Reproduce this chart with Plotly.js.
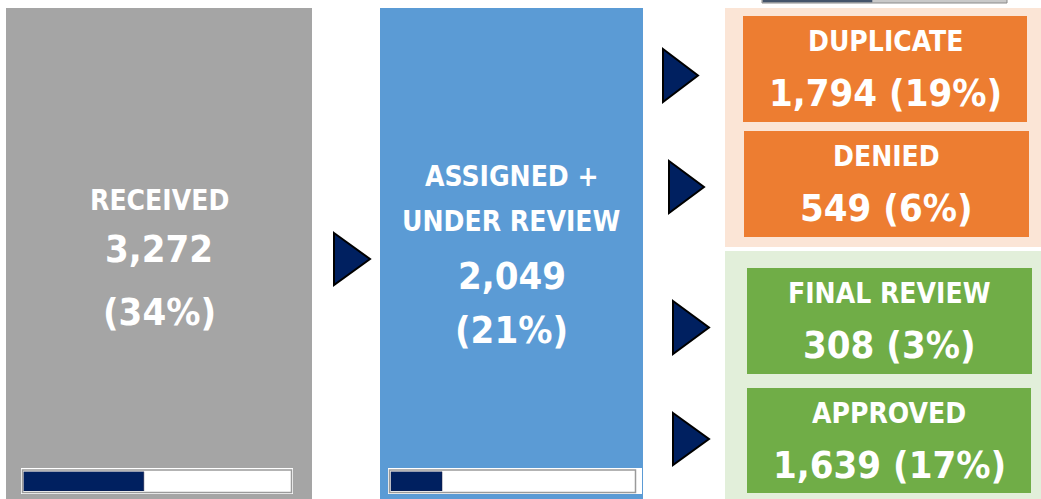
<!DOCTYPE html>
<html>
<head>
<meta charset="utf-8">
<script src="https://cdn.plot.ly/plotly-3.0.1.min.js"></script>
<style>html,body{margin:0;padding:0;background:#fff;}#chart{width:1041px;height:499px;}</style>
</head>
<body>
<div id="chart"></div>
<script>
// ---- data ----
const stageLabels = [['RECEIVED'], ['ASSIGNED +', 'UNDER REVIEW'], ['DUPLICATE'], ['DENIED'], ['FINAL REVIEW'], ['APPROVED']];
const stageCounts = [3272, 2049, 1794, 549, 308, 1639];
const stageShares = [34, 21, 19, 6, 3, 17];
const progressValues = [0.45, 0.21];
const topProgressValue = [0.45];

// ---- layout geometry (pixels, page coordinates) ----
const W = 1041, H = 499;
const NAVY = '#002060';
const FONT = 'DejaVu Sans Condensed';
const boxes = [
  {x0: 6,   x1: 312,  y0: 8,   y1: 499, fill: '#A5A5A5'},
  {x0: 380, x1: 643,  y0: 8,   y1: 499, fill: '#5B9BD5'},
  {x0: 743, x1: 1027, y0: 16,  y1: 122, fill: '#ED7D31'},
  {x0: 744, x1: 1029, y0: 131, y1: 237, fill: '#ED7D31'},
  {x0: 747, x1: 1032, y0: 268, y1: 374, fill: '#70AD47'},
  {x0: 747, x1: 1031, y0: 388, y1: 493, fill: '#70AD47'}
];
const panels = [
  {x0: 725, x1: 1045, y0: 8,   y1: 247, fill: '#FBE5D6'},
  {x0: 725, x1: 1045, y0: 251, y1: 505, fill: '#E2EFDA'}
];
const arrows = [
  [334, 233, 285, 370], [663, 49, 102, 698], [669, 161, 213, 704],
  [673, 301, 354, 709], [673, 413, 465, 709]
];
// progress bar frames: outer white, gray line, inner fill area
const bars = [
  {ox0: 21, ox1: 293, lx0: 22.5, lx1: 291.5, fx0: 23.5, fx1: 290.8},
  {ox0: 388, ox1: 642, lx0: 389.5, lx1: 635.5, fx0: 390.7, fx1: 635}
];

const shapes = [];
panels.concat(boxes).forEach(b => shapes.push({
  type: 'rect', xref: 'x', yref: 'y', x0: b.x0, x1: b.x1, y0: b.y0, y1: b.y1,
  fillcolor: b.fill, line: {width: 0}, layer: 'below'
}));
arrows.forEach(a => {
  const [xl, yt, yb, xt] = a;
  const ym = (yt + yb) / 2;
  shapes.push({type: 'path', xref: 'x', yref: 'y', layer: 'below',
    path: `M ${xl} ${yt} L ${xt} ${ym} L ${xl} ${yb} Z`,
    fillcolor: NAVY, line: {color: '#000', width: 2}});
});
bars.forEach(b => {
  shapes.push({type: 'rect', xref: 'x', yref: 'y', layer: 'below', x0: b.ox0, x1: b.ox1, y0: 468, y1: 494, fillcolor: '#fff', line: {width: 0}});
  shapes.push({type: 'rect', xref: 'x', yref: 'y', layer: 'below', x0: b.lx0, x1: b.lx1, y0: 470, y1: 492.5, fillcolor: '#fff', line: {color: '#9a9a9a', width: 1.5}});
});
// top cut-off progress bar background
shapes.push({type: 'rect', xref: 'x', yref: 'y', layer: 'below', x0: 762, x1: 1007, y0: -4, y1: 3, fillcolor: '#C9C9C9', line: {color: '#8a8a8a', width: 1}});

// ---- annotations ----
const annotations = [];
function txt(x, y, text, size) {
  annotations.push({xref: 'x', yref: 'y', x: x, y: y, text: text, showarrow: false,
    xanchor: 'center', yanchor: 'middle',
    font: {family: FONT, size: size, color: '#ffffff', weight: 700}});
}
const fmt = n => n.toLocaleString('en-US');
// tall boxes
txt((boxes[0].x0 + boxes[0].x1) / 2, 200.5, stageLabels[0][0], 28);
txt((boxes[0].x0 + boxes[0].x1) / 2, 248.5, fmt(stageCounts[0]), 38);
txt((boxes[0].x0 + boxes[0].x1) / 2, 312, '(' + stageShares[0] + '%)', 38);
txt((boxes[1].x0 + boxes[1].x1) / 2, 176, stageLabels[1][0], 28);
txt((boxes[1].x0 + boxes[1].x1) / 2, 221, stageLabels[1][1], 28);
txt((boxes[1].x0 + boxes[1].x1) / 2, 276, fmt(stageCounts[1]), 38);
txt((boxes[1].x0 + boxes[1].x1) / 2, 330, '(' + stageShares[1] + '%)', 38);
// outcome boxes
for (let i = 2; i < 6; i++) {
  const b = boxes[i];
  const cx = (b.x0 + b.x1) / 2;
  txt(cx, b.y0 + 25.5, stageLabels[i][0], 28);
  txt(cx, b.y0 + 77, fmt(stageCounts[i]) + ' (' + stageShares[i] + '%)', 38);
}

// ---- progress bar traces on their own small axes ----
const traces = [];
const layout = {
  width: W, height: H, margin: {l: 0, r: 0, t: 0, b: 0},
  paper_bgcolor: '#ffffff', plot_bgcolor: 'rgba(0,0,0,0)',
  showlegend: false,
  xaxis: {range: [0, W], visible: false, fixedrange: true, domain: [0, 1]},
  yaxis: {range: [H, 0], visible: false, fixedrange: true, domain: [0, 1]},
  shapes: shapes, annotations: annotations
};
// dummy trace to anchor main axes
traces.push({type: 'scatter', x: [0], y: [0], mode: 'markers', marker: {opacity: 0}, hoverinfo: 'skip', xaxis: 'x', yaxis: 'y'});
bars.forEach((b, i) => {
  const n = i + 2;
  traces.push({type: 'bar', orientation: 'h', x: [progressValues[i]], y: [0], width: 1,
    marker: {color: NAVY, line: {color: '#1a1a3a', width: 0.5}},
    xaxis: 'x' + n, yaxis: 'y' + n, hoverinfo: 'skip'});
  layout['xaxis' + n] = {domain: [b.fx0 / W, b.fx1 / W], range: [0, 1], visible: false, fixedrange: true, anchor: 'y' + n};
  layout['yaxis' + n] = {domain: [1 - 491 / H, 1 - 471.5 / H], range: [-0.5, 0.5], visible: false, fixedrange: true, anchor: 'x' + n};
});
// top cut-off bar
traces.push({type: 'bar', orientation: 'h', x: topProgressValue, y: [0], width: 1,
  marker: {color: '#44546A', line: {width: 0}}, xaxis: 'x4', yaxis: 'y4', hoverinfo: 'skip'});
layout.xaxis4 = {domain: [762.5 / W, 1006.5 / W], range: [0, 1], visible: false, fixedrange: true, anchor: 'y4'};
layout.yaxis4 = {domain: [1 - 2.5 / H, 1], range: [-0.5, 0.5], visible: false, fixedrange: true, anchor: 'x4'};

Plotly.newPlot('chart', traces, layout, {staticPlot: true, displayModeBar: false});
</script>
</body>
</html>
